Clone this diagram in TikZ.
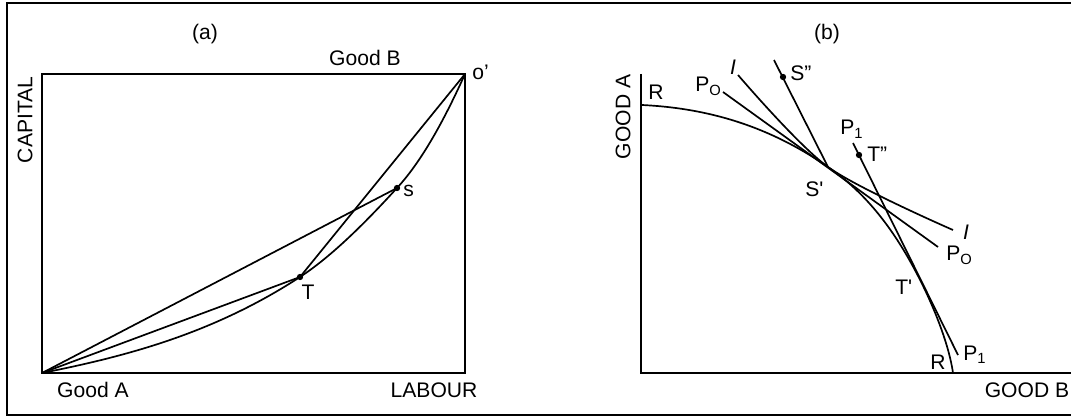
\documentclass[tikz,border=0pt]{standalone}
\usepackage{fontspec}
\setmainfont{Liberation Sans}
\usetikzlibrary{positioning}

\begin{document}
\begin{tikzpicture}[
        x=0.025cm, y=-0.025cm,
        every node/.style={font=\fontsize{15}{18}\selectfont, inner sep=0pt},
        lbl/.style={anchor=base west},
        clbl/.style={anchor=base},
        frame/.style={line width=1.5pt},
        axis/.style={line width=1.6pt},
        crv/.style={line width=1.2pt, line join=round},
        dotpt/.style={circle, fill, minimum size=4.5pt, inner sep=0pt}]

      \useasboundingbox (0,0) rectangle (1071,419);
      \draw[frame] (1071,3) -- (7,3) -- (7,415) -- (1071,415);

      % (a) box diagram
      \coordinate (O)  at (42,373);
      \coordinate (Oa) at (465,74);
      \coordinate (T)  at (300,277);
      \coordinate (S)  at (397,188);
      \draw[axis] (O) rectangle (Oa);
      \draw[crv] (O) .. controls (128,356) and (214,333) .. (T)
                     .. controls (332,256) and (365,223) .. (S)
                     .. controls (420,163) and (442,125) .. (Oa);
      \draw[crv] (O) -- (S);
      \draw[crv] (O) -- (T);
      \draw[crv] (T) -- (Oa);
      \node[dotpt] (Tdot) at (T) {};
      \node[dotpt] (Sdot) at (S) {};

      \node[clbl] (alab)    at (205,40)  {(a)};
      \node[clbl] (goodb)   at (365,66)  {Good B};
      \node[lbl]  (oprime)  at (472,80)  {o'};
      \node[rotate=90] (capital) at (25,120) {CAPITAL};
      \node[clbl] (gooda)   at (93,397)  {Good A};
      \node[clbl] (labour)  at (434,397) {LABOUR};
      \node[clbl] (tlab)    at (308,300) {T};
      \node[lbl]  (slab)    at (403,197) {s};

      % (b) transformation curve
      \coordinate (Yb) at (641,74);
      \coordinate (Ob) at (641,373);
      \coordinate (Xb) at (1071,373);
      \coordinate (Ra) at (642,105);
      \coordinate (Sp) at (828,167);
      \coordinate (Tp) at (925,290);
      \coordinate (Rb) at (953,373);
      \draw[axis] (Yb) -- (Ob) -- (Xb);
      \draw[crv] (Ra) .. controls (704,108) and (766,124) .. (Sp)
                      .. controls (860,189) and (893,223) .. (Tp)
                      .. controls (935,311) and (949,345) .. (Rb);

      \coordinate (P0a) at (723,92);
      \coordinate (P0b) at (938,247);
      \coordinate (Ia)  at (738,75);
      \coordinate (Ib)  at (953,230);
      \coordinate (Ssa) at (774,60);
      \coordinate (P1a) at (853,143);
      \coordinate (P1b) at (958,355);
      \draw[crv] (P0a) -- (P0b);
      \draw[crv] plot[smooth] coordinates {(Ia) (Sp) (Ib)};
      \draw[crv] (Ssa) -- (Sp);
      \draw[crv] (P1a) -- (P1b);
      \node[dotpt] (Ssdot) at (783,77) {};
      \node[dotpt] (Tsdot) at (859,155) {};

      \node[clbl] (blab)   at (827,40)  {(b)};
      \node[rotate=90] (goodA) at (623,117) {GOOD A};
      \node[clbl] (goodB)  at (1027,397) {GOOD B};
      \node[lbl]  (rtop)   at (648,100) {R};
      \node[lbl]  (rbot)   at (930,369) {R};
      \node[lbl]  (p0top)  at (695,92)  {P\textsubscript{O}};
      \node[lbl]  (p0bot)  at (946,261) {P\textsubscript{O}};
      \node[clbl] (itop)   at (733,75)  {\textit{I}};
      \node[clbl] (ibot)   at (966,240) {\textit{I}};
      \node[lbl]  (sdd)    at (790,81)  {S"};
      \node[lbl]  (sd)     at (805,197) {S\textquotesingle};
      \node[lbl]  (p1top)  at (840,135) {P\textsubscript{1}};
      \node[lbl]  (tdd)    at (867,162) {T"};
      \node[lbl]  (td)     at (895,295) {T\textquotesingle};
      \node[lbl]  (p1bot)  at (963,360) {P\textsubscript{1}};
    \end{tikzpicture}
\end{document}
